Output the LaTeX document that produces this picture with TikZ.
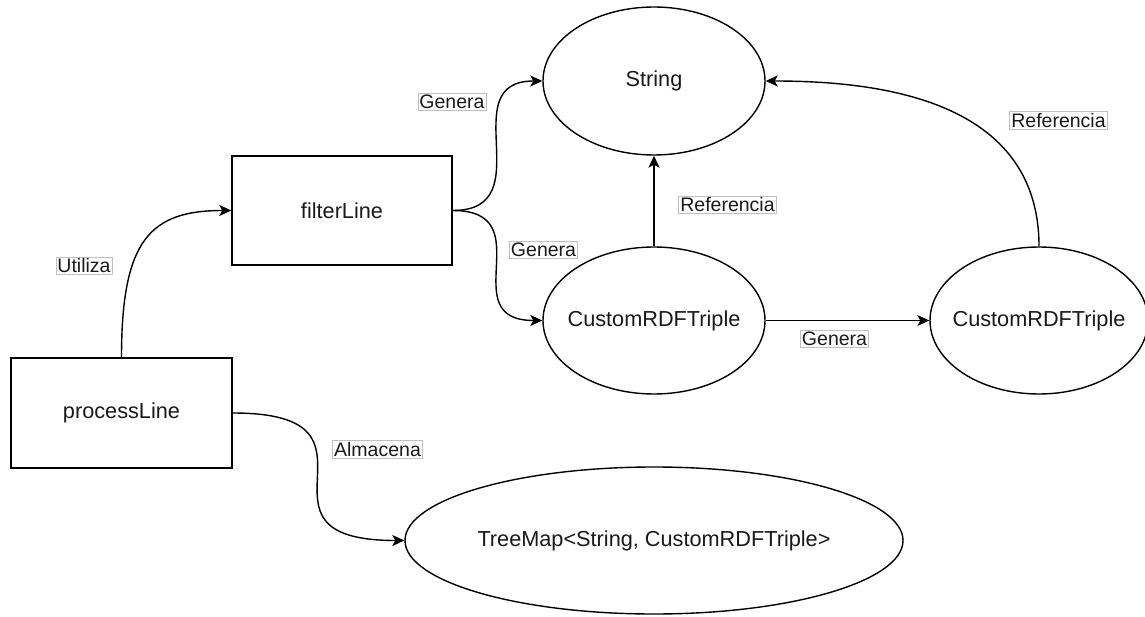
\documentclass[tikz,border=0pt]{standalone}
\usepackage{fontspec}
\setmainfont{Liberation Sans}
\usetikzlibrary{arrows.meta,shapes.geometric}
\begin{document}
\begin{tikzpicture}[x=1pt,y=-1pt,
  every node/.style={font=\fontsize{21.7}{26}\selectfont, text=black!90},
  box/.style={draw, line width=1.4pt, rectangle, inner sep=0pt},
  oval/.style={draw, line width=1.4pt, ellipse, inner sep=0pt},
  lbl/.style={draw=black!25, fill=white, line width=0.8pt, inner sep=1.5pt, font=\fontsize{19.5}{22}\selectfont},
  link/.style={line width=1.4pt, -{Stealth[length=12pt,width=11pt,inset=3pt]}}
]
\useasboundingbox (0,0) rectangle (1145,617);

\node[box, minimum width=221pt, minimum height=110pt] (processLine) at (121.5,413) {processLine};
\node[box, minimum width=220pt, minimum height=109pt] (filterLine) at (342,210.5) {filterLine};
\node[oval, minimum width=222pt, minimum height=148pt, label=center:String] (String) at (654,81) {};
\node[oval, minimum width=222pt, minimum height=147pt, label=center:CustomRDFTriple] (crt1) at (654,320.5) {};
\node[oval, minimum width=218pt, minimum height=147pt, label=center:CustomRDFTriple] (crt2) at (1039,320.5) {};
\node[oval, minimum width=498pt, minimum height=147pt, label={center:{TreeMap<String, CustomRDFTriple>}}] (treemap) at (654,540.5) {};

\draw[link] (processLine.north) .. controls (121.5,240) and (150,210.5) .. (filterLine.west);
\draw[link] (filterLine.east) .. controls (543,210.5) and (452,81) .. (String.west);
\draw[link] (filterLine.east) .. controls (543,210.5) and (452,320.5) .. (crt1.west);
\draw[link] (crt1.north) -- (String.south);
\draw[link] (crt1.east) -- (crt2.west);
\draw[link] (crt2.north) .. controls (1039,100) and (880,81) .. (String.east);
\draw[link] (processLine.east) .. controls (405,413) and (232,540.5) .. (treemap.west);

\node[lbl] (lUtiliza) at (84,266) {Utiliza};
\node[lbl] (lGenera1) at (452,102) {Genera};
\node[lbl] (lGenera2) at (543.5,250) {Genera};
\node[lbl] (lRef1) at (727.5,205) {Referencia};
\node[lbl] (lGenera3) at (834.5,339) {Genera};
\node[lbl] (lRef2) at (1058.5,120.5) {Referencia};
\node[lbl] (lAlm) at (377.5,449.5) {Almacena};
\end{tikzpicture}
\end{document}
